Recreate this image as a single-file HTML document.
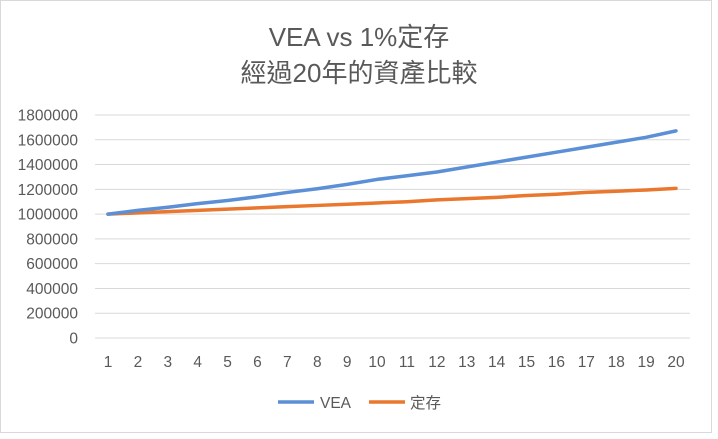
<!DOCTYPE html>
<html><head><meta charset="utf-8"><style>
body{margin:0;background:#fff}
svg{display:block;font-family:"Liberation Sans","Noto Sans CJK TC",sans-serif}
</style></head><body>
<svg width="718" height="439">
<rect x="0.5" y="0.5" width="711" height="432" fill="#fff" stroke="#d9d9d9"/>
<text x="359" y="46" text-anchor="middle" font-size="26" fill="#595959">VEA vs 1%定存</text>
<text x="359" y="82" text-anchor="middle" font-size="26" fill="#595959">經過20年的資產比較</text>
<g id="grid"></g><g id="ylab"></g><g id="xlab"></g><g id="lines"></g>
<g>
<line x1="278" y1="402" x2="314" y2="402" stroke="#5b8fd6" stroke-width="3.5"/>
<text x="320" y="408" font-size="15.5" fill="#595959">VEA</text>
<line x1="369" y1="402" x2="405" y2="402" stroke="#e9772e" stroke-width="3.5"/>
<text x="410" y="408" font-size="15.5" fill="#595959">定存</text>
</g>
</svg>
<script>
const categories=[1,2,3,4,5,6,7,8,9,10,11,12,13,14,15,16,17,18,19,20];
const veaValues=[1000000,1030000,1055000,1085000,1110000,1140000,1175000,1205000,1240000,1280000,1310000,1340000,1380000,1420000,1460000,1500000,1540000,1580000,1620000,1672000];
const depositValues=[1000000,1010000,1020000,1030000,1040000,1050000,1060000,1070000,1080000,1090000,1100000,1115000,1125000,1135000,1150000,1160000,1175000,1185000,1195000,1208000];
const yTicks=[0,200000,400000,600000,800000,1000000,1200000,1400000,1600000,1800000];
const NS="http://www.w3.org/2000/svg";
const y=v=>338-v/1800000*223;
const x=i=>108+i*(676-108)/19;
function mk(t,a,p){const e=document.createElementNS(NS,t);for(const k in a)e.setAttribute(k,a[k]);document.getElementById(p).appendChild(e);return e;}
yTicks.forEach(v=>{
 const g=mk('line',{x1:95,x2:690,y1:y(v),y2:y(v),stroke:'#d9d9d9','stroke-width':1},'grid');
 
 
 const t=mk('text',{x:78,y:y(v)+5.5,'text-anchor':'end','font-size':15.5,fill:'#595959'},'ylab');
 t.textContent=v;
 
 
});
categories.forEach((c,i)=>{
 const t=mk('text',{x:x(i),y:367,'text-anchor':'middle','font-size':15.5,fill:'#595959'},'xlab');
 t.textContent=c;
 
 
});
function line(vals,col,name){
 const p=mk('polyline',{points:vals.map((v,i)=>x(i)+','+y(v)).join(' '),fill:'none',stroke:col,'stroke-width':3.5,'stroke-linecap':'round','stroke-linejoin':'round'},'lines');
 
 
}
line(depositValues,'#e9772e','deposit-line');
line(veaValues,'#5b8fd6','vea-line');
</script>
</body></html>
